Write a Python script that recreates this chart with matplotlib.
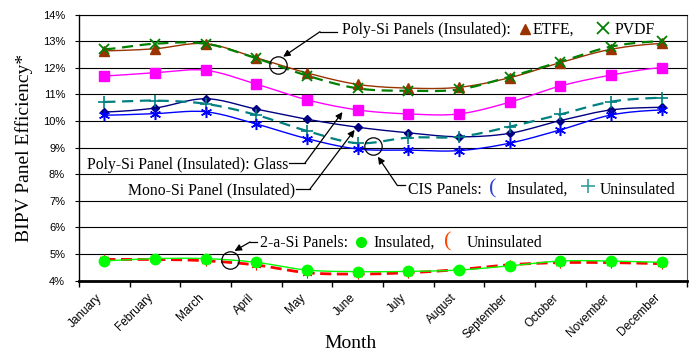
import numpy as np
import matplotlib.pyplot as plt
from matplotlib.lines import Line2D
import matplotlib.transforms as mtransforms

months = ['January', 'February', 'March', 'April', 'May', 'June', 'July',
          'August', 'September', 'October', 'November', 'December']

# monthly efficiency, %
poly_etfe = [12.64, 12.72, 12.91, 12.38, 11.81, 11.38, 11.24, 11.27, 11.63, 12.20, 12.70, 12.92]
poly_pvdf = [12.70, 12.91, 12.91, 12.36, 11.71, 11.23, 11.14, 11.19, 11.67, 12.23, 12.80, 13.01]
poly_glass = [11.70, 11.82, 11.91, 11.39, 10.80, 10.42, 10.27, 10.27, 10.71, 11.32, 11.73, 12.01]
mono_si = [10.34, 10.49, 10.84, 10.45, 10.07, 9.77, 9.56, 9.41, 9.54, 10.02, 10.42, 10.52]
cis_ins = [10.22, 10.28, 10.35, 9.89, 9.34, 8.95, 8.91, 8.89, 9.17, 9.67, 10.23, 10.42]
cis_unins = [10.72, 10.77, 10.65, 10.23, 9.63, 9.17, 9.38, 9.41, 9.79, 10.25, 10.73, 10.88]
asi_ins = [4.75, 4.83, 4.83, 4.69, 4.40, 4.34, 4.35, 4.40, 4.56, 4.74, 4.74, 4.69]
asi_unins = [4.80, 4.80, 4.75, 4.59, 4.30, 4.25, 4.30, 4.42, 4.60, 4.68, 4.68, 4.64]

serif = 'Liberation Serif'
sans = 'Liberation Sans'


def smooth(y, n=16):
    # Bezier-style smoothed line through the monthly points
    y = np.asarray(y, float)
    k = len(y)
    xs, ys = [], []
    for i in range(k - 1):
        p0 = y[i - 1] if i > 0 else y[i]
        p3 = y[i + 2] if i + 2 < k else y[i + 1]
        m1 = (y[i + 1] - p0) / 2
        m2 = (p3 - y[i]) / 2
        t = np.linspace(0, 1, n)
        h00 = 2*t**3 - 3*t**2 + 1
        h10 = t**3 - 2*t**2 + t
        h01 = -2*t**3 + 3*t**2
        h11 = t**3 - t**2
        xs.append(i + t)
        ys.append(h00*y[i] + h10*m1 + h01*y[i + 1] + h11*m2)
    return np.concatenate(xs), np.concatenate(ys)


def series(ax, y, color, ls='-', lw=1.0, marker=None, ms=6, mfc=None, mec=None, mew=1.0):
    sx, sy = smooth(y)
    ax.plot(sx, sy, color=color, ls=ls, lw=lw, zorder=3)
    ax.plot(np.arange(len(y)), y, ls='none', marker=marker, ms=ms,
            mfc=mfc if mfc else color, mec=mec if mec else color, mew=mew, zorder=4)


W, H = 691, 356
fig = plt.figure(figsize=(W/100, H/100), dpi=100)
ax = fig.add_axes([79/W, 1 - 280.7/H, 608/W, 266/H])


def fp(x, y):
    return x / W, 1 - y / H


x = np.arange(12)
series(ax, poly_etfe, '#993300', lw=1.0, marker='^', ms=7)
series(ax, poly_pvdf, '#008000', ls=(0, (5, 3)), lw=1.6, marker='x', ms=7, mew=1.3)
series(ax, poly_glass, '#FF00FF', lw=1.0, marker='s', ms=7)
series(ax, mono_si, '#000080', lw=1.0, marker='D', ms=4.5)
series(ax, cis_unins, '#008080', ls=(0, (5, 3)), lw=1.6, marker='+', ms=8, mew=1.2)
series(ax, cis_ins, '#0000FF', lw=1.0, marker=(6, 2, 0), ms=8, mew=1.1)
series(ax, asi_unins, '#FF0000', ls=(0, (4, 2)), lw=2.0, marker=(6, 2, 0), ms=7, mew=0.6)
series(ax, asi_ins, '#00FF00', lw=1.0, marker='o', ms=7.5)

ax.set_xlim(-0.5, 11.5)
ax.set_ylim(4, 14)
ax.set_yticks(np.arange(4, 15))
ax.set_yticklabels([f'{v}%' for v in range(4, 15)], fontsize=8, family=sans)
ax.tick_params(axis='y', direction='out', length=3, width=0.8, pad=7)
for v in range(5, 15):
    ax.axhline(v, color='black', lw=0.8, zorder=1)

ax.set_xticks(x)
ax.set_xticklabels(months, rotation=45, ha='right', va='center',
                   rotation_mode='anchor', fontsize=8.5, family=sans)
ax.tick_params(axis='x', length=0, pad=11)
offset = mtransforms.ScaledTranslation(-4/100, 0, fig.dpi_scale_trans)
for lab in ax.get_xticklabels():
    lab.set_transform(lab.get_transform() + offset)
ax.set_xticks(np.arange(-0.5, 12, 1), minor=True)
ax.tick_params(axis='x', which='minor', direction='out', length=4, width=1.0)

ax.spines['bottom'].set_linewidth(2.0)
ax.spines['left'].set_linewidth(1.0)
ax.spines['top'].set_linewidth(0.8)
ax.spines['right'].set_color('#555555')
ax.spines['right'].set_linewidth(0.8)

fig.text(*fp(24, 148), 'BIPV Panel Efficiency*', rotation=90, ha='center', va='center',
         fontsize=14, family=serif)
fig.text(*fp(351, 343), 'Month', ha='center', va='center', fontsize=14, family=serif)

# callout circles
for cx, cy in [(3.42, 12.10), (5.30, 9.06), (2.49, 4.78)]:
    ax.plot(cx, cy, marker='o', ms=12.5, mfc='none', mec='black', mew=0.9, zorder=5)

tsize = 11.3
arrow = dict(arrowstyle='-|>', color='black', lw=0.9, mutation_scale=10, shrinkA=0, shrinkB=0)


def callout(text_xy, elbow, end, tip):
    fig.add_artist(Line2D([elbow[0] / W, end[0] / W], [1 - elbow[1] / H, 1 - end[1] / H],
                          color='black', lw=0.9))
    ax.annotate('', xy=tip, xycoords='data', xytext=fp(*elbow),
                textcoords='figure fraction', arrowprops=arrow)


# Poly-Si (insulated) ETFE / PVDF
fig.text(*fp(341.7, 34), 'Poly-Si Panels (Insulated):', fontsize=tsize, family=serif, va='baseline')
fig.add_artist(Line2D([525 / W], [1 - 29 / H], marker='^', ms=7, color='#993300', ls='none'))
fig.text(*fp(533, 34), 'ETFE,', fontsize=tsize, family=serif, va='baseline')
fig.add_artist(Line2D([603 / W], [1 - 28 / H], marker='x', ms=8, mew=1.3, color='#008000', ls='none'))
fig.text(*fp(615, 34), 'PVDF', fontsize=tsize, family=serif, va='baseline')
callout(None, (320, 31.7), (337, 31.7), (3.53, 12.42))

# Poly-Si glass
fig.text(*fp(87.3, 169), 'Poly-Si Panel (Insulated): Glass', fontsize=tsize, family=serif, va='baseline')
callout(None, (305, 163), (289, 163), (4.70, 10.34))

# Mono-Si
fig.text(*fp(128.3, 194), 'Mono-Si Panel (Insulated)', fontsize=tsize, family=serif, va='baseline')
callout(None, (310, 189), (296, 189), (4.94, 9.67))

# CIS
fig.text(*fp(408, 194), 'CIS Panels:', fontsize=tsize, family=serif, va='baseline')
fig.text(*fp(493, 189), '(', fontsize=16, family=serif, va='center', ha='center', color='#3344CC')
fig.text(*fp(506.7, 194), 'Insulated,', fontsize=tsize, family=serif, va='baseline')
fig.add_artist(Line2D([588 / W], [1 - 186 / H], marker='+', ms=10, mew=1.2, color='#33A0A0', ls='none'))
fig.text(*fp(600, 194), 'Uninsulated', fontsize=tsize, family=serif, va='baseline')
callout(None, (397, 185), (405, 185), (5.40, 8.66))

# 2-a-Si
fig.text(*fp(260, 246.7), '2-a-Si Panels:', fontsize=tsize, family=serif, va='baseline')
fig.add_artist(Line2D([361 / W], [1 - 242 / H], marker='o', ms=7, color='#00EE00', ls='none'))
fig.text(*fp(373, 246.7), 'Insulated,', fontsize=tsize, family=serif, va='baseline')
fig.text(*fp(448, 242), '(', fontsize=16, family=serif, va='center', ha='center', color='#FF4400')
fig.text(*fp(466.7, 246.7), 'Uninsulated', fontsize=tsize, family=serif, va='baseline')
callout(None, (250, 242), (257, 242), (2.57, 5.12))

fig.savefig('out.png', dpi=100)
